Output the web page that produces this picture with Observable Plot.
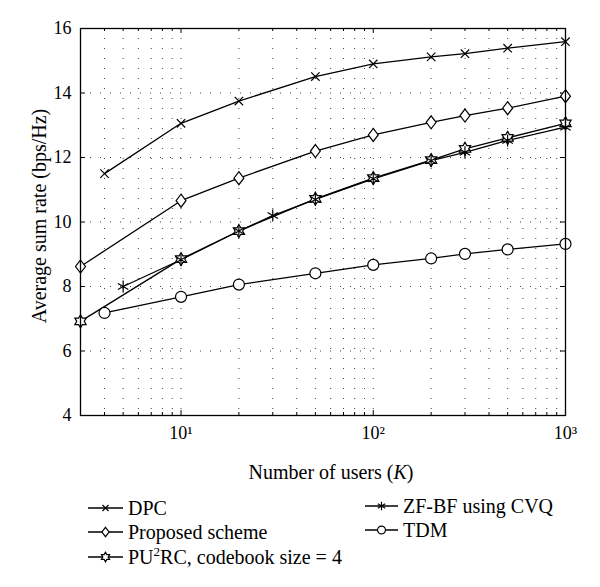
<!DOCTYPE html>
<html><head><meta charset="utf-8">
<script src="https://cdn.jsdelivr.net/npm/d3@7"></script>
<script src="https://cdn.jsdelivr.net/npm/@observablehq/plot@0.6"></script>
<style>
body{margin:0;background:#fff;font-family:"Liberation Serif",serif;color:#000;}
#chart{width:600px;height:485px;}
#legend{position:relative;width:600px;height:102px;font-size:20px;}
.item{position:absolute;display:flex;align-items:center;height:24px;white-space:nowrap;transform:translateY(-50%);}
.item sup{font-size:13px;vertical-align:8px;line-height:0;}
</style></head><body><div id="chart"></div><div id="legend"></div>
<script>
// ---- data ----
const K_dpc = [4, 10, 20, 50, 100, 200, 300, 500, 1000];
const dpc = [11.5, 13.06, 13.75, 14.51, 14.9, 15.12, 15.22, 15.39, 15.59];
const K_prop = [3, 10, 20, 50, 100, 200, 300, 500, 1000];
const proposed = [8.62, 10.66, 11.36, 12.2, 12.7, 13.09, 13.3, 13.53, 13.9];
const K_pu = [3, 10, 20, 50, 100, 200, 300, 500, 1000];
const pu2rc = [6.92, 8.85, 9.72, 10.72, 11.36, 11.92, 12.27, 12.61, 13.06];
const K_zf = [5, 10, 20, 30, 50, 100, 200, 300, 500, 1000];
const zfbf = [8.0, 8.83, 9.72, 10.2, 10.7, 11.34, 11.9, 12.16, 12.53, 12.94];
const K_tdm = [4, 10, 20, 50, 100, 200, 300, 500, 1000];
const tdm = [7.18, 7.68, 8.06, 8.41, 8.67, 8.87, 9.01, 9.15, 9.32];

const seriesNames = ["DPC", "Proposed scheme", "PU2RC, codebook size = 4", "ZF-BF using CVQ", "TDM"];
const xDomain = [3, 1000];
const yDomain = [4, 16];
const yTicks = [4, 6, 8, 10, 12, 14, 16];
const xMajorTicks = [10, 100, 1000];
const xTickLabels = ["10\u00b9", "10\u00b2", "10\u00b3"];
const xLabel = "Number of users (";
const yLabel = "Average sum rate (bps/Hz)";

// ---- symbols ----
const timesSym = {draw(c, s){const r=Math.sqrt(s/Math.PI); c.moveTo(-r,-r); c.lineTo(r,r); c.moveTo(-r,r); c.lineTo(r,-r);}};
const diamondSym = {draw(c, s){const r=Math.sqrt(s/Math.PI); const w=r*0.8, h=r*1.05; c.moveTo(0,-h); c.lineTo(w,0); c.lineTo(0,h); c.lineTo(-w,0); c.closePath();}};
const hexSym = {draw(c, s){const r=Math.sqrt(s/Math.PI); const ri=r/Math.sqrt(3);
  for(let i=0;i<12;i++){const a=-Math.PI/2+i*Math.PI/6; const rr=i%2?ri:r; const px=rr*Math.cos(a), py=rr*Math.sin(a); if(i===0)c.moveTo(px,py); else c.lineTo(px,py);} c.closePath();}};
const astSym = {draw(c, s){const r=Math.sqrt(s/Math.PI); for(const deg of [90,30,150]){const a=deg*Math.PI/180; c.moveTo(-r*Math.cos(a),-r*Math.sin(a)); c.lineTo(r*Math.cos(a),r*Math.sin(a));}}};
const circSym = {draw(c, s){const r=Math.sqrt(s/Math.PI); c.moveTo(r,0); c.arc(0,0,r,0,2*Math.PI);}};

const series = [
  {name: seriesNames[0], K: K_dpc, v: dpc, sym: timesSym, r: 4.2, fill: "none"},
  {name: seriesNames[1], K: K_prop, v: proposed, sym: diamondSym, r: 6.2, fill: "white"},
  {name: seriesNames[2], K: K_pu, v: pu2rc, sym: hexSym, r: 6.5, fill: "white"},
  {name: seriesNames[3], K: K_zf, v: zfbf, sym: astSym, r: 6, fill: "none"},
  {name: seriesNames[4], K: K_tdm, v: tdm, sym: circSym, r: 5.5, fill: "white"}
];
const rows = series.flatMap(s => s.K.map((k, i) => ({s: s.name, K: k, v: s.v[i]})));

const W = 600, H = 485, mL = 80, mR = 35, mT = 28, mB = 70;
const frameW = W - mL - mR, frameH = H - mT - mB;
const allXTicks = d3.scaleLog().domain(xDomain).ticks();
const xGrid = allXTicks.filter(d => d > xDomain[0] && d < xDomain[1]);
const xMinor = allXTicks.filter(d => !xMajorTicks.includes(d));
const yGrid = yTicks.filter(d => d > yDomain[0] && d < yDomain[1]);
const dotted = {stroke: "#000", strokeWidth: 1, strokeOpacity: 0.75, strokeDasharray: "1,9"};

const marks = [
  Plot.ruleX(xGrid, {x: d => d, ...dotted}),
  Plot.ruleY(yGrid, {y: d => d, ...dotted}),
  Plot.tickX(xMajorTicks, {x: d => d, insetTop: frameH - 5, stroke: "#000"}),
  Plot.tickX(xMajorTicks, {x: d => d, insetBottom: frameH - 5, stroke: "#000"}),
  Plot.tickX(xMinor, {x: d => d, insetTop: frameH - 3, stroke: "#000"}),
  Plot.tickX(xMinor, {x: d => d, insetBottom: frameH - 3, stroke: "#000"}),
  Plot.tickY(yTicks, {y: d => d, insetRight: frameW - 5, stroke: "#000"}),
  Plot.tickY(yTicks, {y: d => d, insetLeft: frameW - 5, stroke: "#000"}),
  Plot.axisY({ticks: yTicks, tickSize: 0, tickPadding: 9, fontSize: 18, label: null}),
  Plot.axisX({ticks: xMajorTicks, tickSize: 0, tickPadding: 11, fontSize: 18, label: null,
    tickFormat: d => xTickLabels[xMajorTicks.indexOf(d)]}),
  Plot.line(rows, {x: "K", y: "v", z: "s", stroke: "#000", strokeWidth: 1.3}),
  ...series.map(s => Plot.dot(rows.filter(d => d.s === s.name), {x: "K", y: "v", symbol: s.sym, r: s.r, fill: s.fill, stroke: "#000", strokeWidth: 1.2})),
  Plot.frame({stroke: "#000", strokeWidth: 1.3})
];

const chart = Plot.plot({
  width: W, height: H, marginLeft: mL, marginRight: mR, marginTop: mT, marginBottom: mB,
  style: {fontFamily: "Liberation Serif, serif", fontSize: "18px", background: "white", color: "black"},
  x: {type: "log", domain: xDomain, axis: null},
  y: {domain: yDomain, axis: null},
  marks
});
document.getElementById("chart").appendChild(chart);

const svg = d3.select(chart);
const xt = svg.append("text").attr("x", 331).attr("y", 479).attr("text-anchor", "middle")
  .attr("font-size", 20).attr("fill", "#000");
xt.append("tspan").text(xLabel);
xt.append("tspan").attr("font-style", "italic").text("K");
xt.append("tspan").text(")");
svg.append("text").attr("transform", "translate(46,216) rotate(-90)").attr("text-anchor", "middle")
  .attr("font-size", 20).attr("fill", "#000").text(yLabel);

// ---- legend ----
const legend = document.getElementById("legend");
const pos = [
  {x: 88, y: 23, lw: 35}, {x: 88, y: 47, lw: 35}, {x: 88, y: 72, lw: 35},
  {x: 365, y: 21, lw: 33}, {x: 365, y: 45, lw: 33}
];
const legendHTML = ["DPC", "Proposed scheme", "PU<sup>2</sup>RC, codebook size = 4", "ZF-BF using CVQ", "TDM"];
series.forEach((s, i) => {
  const p = pos[i];
  const div = document.createElement("div");
  div.className = "item";
  div.style.left = p.x + "px"; div.style.top = p.y + "px";
  const ns = "http://www.w3.org/2000/svg";
  const sv = document.createElementNS(ns, "svg");
  sv.setAttribute("width", p.lw); sv.setAttribute("height", 16);
  sv.style.marginRight = "5px";
  const ln = document.createElementNS(ns, "line");
  ln.setAttribute("x1", 0); ln.setAttribute("x2", p.lw); ln.setAttribute("y1", 8); ln.setAttribute("y2", 8);
  ln.setAttribute("stroke", "#000"); ln.setAttribute("stroke-width", 1.3);
  sv.appendChild(ln);
  const path = d3.path();
  const rr = s.r * 0.72;
  s.sym.draw(path, rr * rr * Math.PI);
  const pe = document.createElementNS(ns, "path");
  pe.setAttribute("d", path.toString());
  pe.setAttribute("transform", `translate(${p.lw/2},8)`);
  pe.setAttribute("fill", s.fill); pe.setAttribute("stroke", "#000"); pe.setAttribute("stroke-width", 1.2);
  sv.appendChild(pe);
  div.appendChild(sv);
  const sp = document.createElement("span");
  sp.innerHTML = legendHTML[i];
  div.appendChild(sp);
  legend.appendChild(div);
});
</script></body></html>
